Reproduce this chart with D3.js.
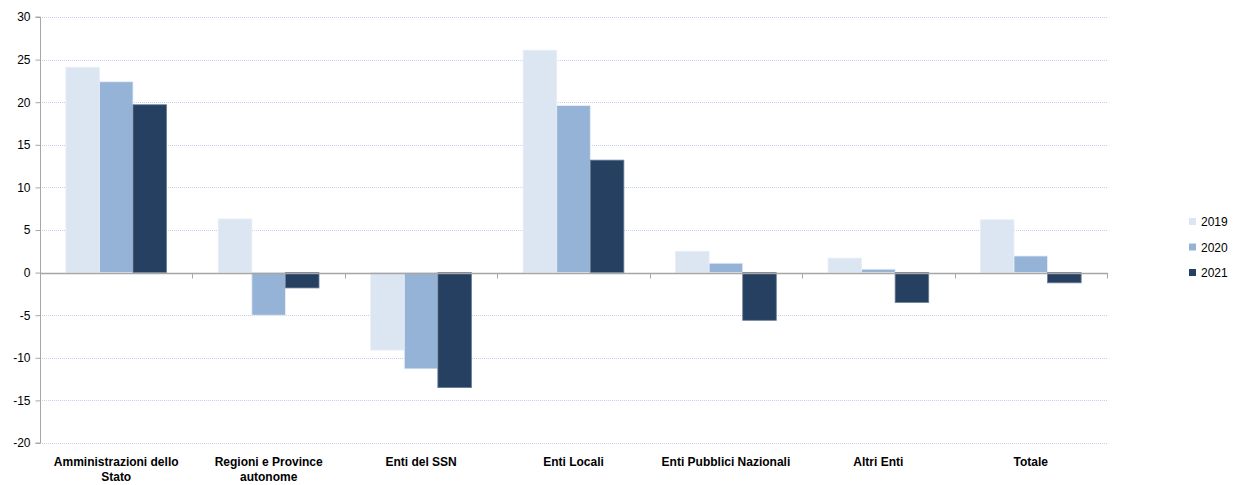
<!DOCTYPE html>
<html>
<head>
<meta charset="utf-8">
<script src="https://cdn.jsdelivr.net/npm/d3@7"></script>
<style>
  body { margin: 0; background: #fff; }
  svg { display: block; font-family: "Liberation Sans", Carlito, Arial, sans-serif; }
</style>
</head>
<body>
<svg id="chart" width="1239" height="485"></svg>
<script>
// Categories and yearly values
const categories = [
  ["Amministrazioni dello", "Stato"],
  ["Regioni e Province", "autonome"],
  ["Enti del SSN"],
  ["Enti Locali"],
  ["Enti Pubblici Nazionali"],
  ["Altri Enti"],
  ["Totale"]
];
const years = ["2019", "2020", "2021"];
const values2019 = [24.1, 6.3, -9.1, 26.1, 2.5, 1.7, 6.2];
const values2020 = [22.4, -5.0, -11.3, 19.6, 1.1, 0.4, 1.95];
const values2021 = [19.7, -1.8, -13.5, 13.2, -5.6, -3.5, -1.2];
const yTicks = [30, 25, 20, 15, 10, 5, 0, -5, -10, -15, -20];
const colors = ["#dce6f2", "#95b3d7", "#254061"];

const series = [values2019, values2020, values2021];
const svg = d3.select("#chart");
const plotLeft = 40, plotRight = 1107, plotTop = 17, plotBottom = 443;

const x = d3.scaleBand().domain(d3.range(categories.length)).range([plotLeft, plotRight]).paddingInner(0).paddingOuter(0);
const xi = d3.scaleBand().domain(d3.range(years.length)).range([0, x.bandwidth()]).paddingOuter(0.77).paddingInner(0);
const y = d3.scaleLinear().domain([-20, 30]).range([plotBottom, plotTop]);

// Gridlines
svg.append("g").selectAll("line").data(yTicks.filter(d => d !== 0)).join("line")
  .attr("x1", plotLeft).attr("x2", plotRight)
  .attr("y1", d => Math.round(y(d)) + 0.5).attr("y2", d => Math.round(y(d)) + 0.5)
  .attr("stroke", "#c3d1ee").attr("stroke-width", 1).attr("stroke-dasharray", "1,1");

// Bars
const groups = svg.append("g").selectAll("g").data(series).join("g");
groups.each(function(vals, si) {
  d3.select(this).selectAll("rect").data(vals).join("rect")
    .attr("x", (d, i) => x(i) + xi(si))
    .attr("width", xi.bandwidth())
    .attr("y", d => y(Math.max(0, d)))
    .attr("height", d => Math.abs(y(d) - y(0)))
    .attr("fill", colors[si])
    .attr("stroke", si === 2 ? "#6b7d95" : "#e8eef7")
    .attr("stroke-width", 0.8);
});

// Y axis
const yAxis = svg.append("g").attr("transform", `translate(${plotLeft + 0.5},0)`)
  .call(d3.axisLeft(y).tickValues(yTicks).tickSize(5).tickPadding(5).tickFormat(d => String(d)));
yAxis.select(".domain").attr("stroke", "#a6a6a6").attr("d", `M-5,${y(30)}H0V${y(-20)}H-5`);
yAxis.selectAll(".tick line").attr("stroke", "#a6a6a6");
yAxis.selectAll(".tick text").attr("fill", "#000").attr("font-size", 12)
  .attr("font-family", "Liberation Sans, Arial, sans-serif");

// Zero line with category tick marks
const xAxis = svg.append("g").attr("transform", `translate(0,${Math.round(y(0)) + 0.5})`);
xAxis.append("line").attr("x1", plotLeft).attr("x2", plotRight + 1).attr("stroke", "#a6a6a6").attr("stroke-width", 1.3);
xAxis.selectAll("line.tick").data(d3.range(categories.length + 1)).join("line")
  .attr("class", "tick")
  .attr("x1", i => Math.round(i < categories.length ? x(i) : plotRight) + 0.5)
  .attr("x2", i => Math.round(i < categories.length ? x(i) : plotRight) + 0.5)
  .attr("y1", 0).attr("y2", 5).attr("stroke", "#a6a6a6");

// Category labels
const labels = svg.append("g").selectAll("text").data(categories).join("text")
  .attr("x", (d, i) => x(i) + x.bandwidth() / 2)
  .attr("y", 466)
  .attr("text-anchor", "middle")
  .attr("font-size", 12).attr("font-weight", "bold").attr("fill", "#000");
labels.each(function(lines) {
  d3.select(this).selectAll("tspan").data(lines).join("tspan")
    .attr("x", d3.select(this).attr("x"))
    .attr("dy", (d, j) => j === 0 ? 0 : 15)
    .text(d => d);
});

// Legend
const legend = svg.append("g").selectAll("g").data(years).join("g")
  .attr("transform", (d, i) => `translate(1189,${218 + i * 25.5})`);
legend.append("rect").attr("width", 7).attr("height", 7).attr("fill", (d, i) => colors[i]);
legend.append("text").attr("x", 12).attr("y", 8).attr("font-size", 12).attr("fill", "#000").text(d => d);
</script>
</body>
</html>
